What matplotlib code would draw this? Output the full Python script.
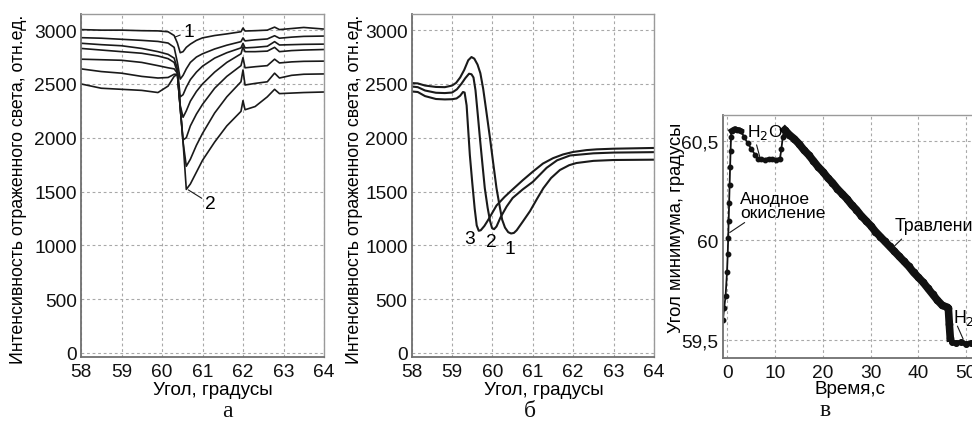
import matplotlib
matplotlib.use("Agg")
import matplotlib.pyplot as plt

plt.rcParams["font.family"] = ["Liberation Sans", "DejaVu Sans"]
plt.rcParams["font.size"] = 13.5

# ---- panel a: reflectance curves during oxidation (7 curves) ----
angle_a = [58.0, 58.5, 59.0, 59.5, 59.9, 60.15, 60.3, 60.38, 60.45, 60.52, 60.6,
           60.7, 60.85, 61.0, 61.3, 61.6, 61.95, 62.0, 62.05, 62.3, 62.6, 62.78,
           62.9, 63.2, 63.5, 64.0]
curve_a1 = [3005, 3000, 3000, 2995, 2993, 2985, 2950, 2880, 2790, 2800, 2840,
            2870, 2905, 2928, 2950, 2965, 2985, 3020, 2992, 2995, 3000, 3028,
            3005, 3015, 3025, 3010]
curve_a2 = [2930, 2925, 2915, 2905, 2895, 2880, 2840, 2700, 2545, 2580, 2640,
            2700, 2750, 2780, 2825, 2860, 2893, 2928, 2900, 2910, 2918, 2948,
            2925, 2935, 2942, 2945]
curve_a3 = [2878, 2865, 2855, 2830, 2800, 2775, 2740, 2640, 2380, 2400, 2470,
            2540, 2610, 2665, 2740, 2790, 2835, 2877, 2835, 2840, 2850, 2893,
            2862, 2865, 2868, 2870]
curve_a4 = [2830, 2815, 2800, 2785, 2760, 2735, 2700, 2610, 2300, 2190, 2250,
            2340, 2430, 2500, 2610, 2700, 2780, 2845, 2800, 2800, 2805, 2840,
            2800, 2810, 2815, 2820]
curve_a5 = [2730, 2725, 2720, 2700, 2670, 2650, 2640, 2600, 2280, 1980, 2000,
            2110, 2220, 2310, 2460, 2570, 2670, 2745, 2650, 2660, 2670, 2730,
            2695, 2705, 2710, 2712]
curve_a6 = [2640, 2615, 2600, 2570, 2555, 2560, 2590, 2590, 2280, 1960, 1735,
            1800, 1930, 2040, 2230, 2380, 2520, 2630, 2490, 2505, 2520, 2600,
            2555, 2580, 2590, 2593]
curve_a7 = [2500, 2460, 2450, 2440, 2420, 2480, 2570, 2590, 2280, 1960, 1520,
            1570, 1680, 1790, 1960, 2110, 2245, 2345, 2260, 2290, 2380, 2450,
            2410, 2415, 2420, 2425]
curves_a = [curve_a1, curve_a2, curve_a3, curve_a4, curve_a5, curve_a6, curve_a7]

# ---- panel b: calculated curves 1-3 ----
angle_b1 = [58.0, 58.15, 58.33, 58.6, 58.82, 59.0, 59.1, 59.2, 59.3, 59.4,
            59.48, 59.55, 59.63, 59.7, 59.77, 59.85, 59.94, 60.02, 60.1, 60.17,
            60.24, 60.31, 60.39, 60.46, 60.53, 60.6, 60.75, 60.93, 61.1, 61.26,
            61.45, 61.67, 61.9, 62.08, 62.5, 63.0, 64.0]
curve_b1 = [2508, 2505, 2485, 2472, 2470, 2485, 2510, 2560, 2630, 2720,
            2750, 2735, 2680, 2600, 2455, 2240, 1993, 1760, 1531, 1380,
            1238, 1165, 1122, 1110, 1115, 1140, 1220, 1318, 1430, 1531,
            1625, 1700, 1745, 1765, 1785, 1793, 1796]
angle_b2 = [58.0, 58.15, 58.33, 58.6, 58.82, 59.0, 59.12, 59.23, 59.33, 59.42,
            59.48, 59.53, 59.58, 59.64, 59.69, 59.75, 59.81, 59.88, 59.94, 59.99,
            60.04, 60.1, 60.2, 60.35, 60.5, 60.75, 61.0, 61.34, 61.6, 61.92,
            62.5, 63.0, 64.0]
curve_b2 = [2476, 2470, 2439, 2418, 2415, 2420, 2450, 2501, 2555, 2595,
            2590, 2560, 2440, 2200, 1993, 1760, 1531, 1350, 1226, 1160,
            1150, 1175, 1260, 1360, 1440, 1520, 1590, 1720, 1790, 1835,
            1855, 1862, 1866]
angle_b3 = [58.0, 58.15, 58.33, 58.6, 58.82, 59.0, 59.11, 59.2, 59.27, 59.31,
            59.36, 59.44, 59.5, 59.56, 59.61, 59.66, 59.71, 59.8, 59.9, 60.1,
            60.3, 60.5, 60.75, 61.0, 61.25, 61.5, 61.75, 62.0, 62.33, 62.58,
            63.0, 64.0]
curve_b3 = [2430, 2425, 2387, 2360, 2356, 2358, 2365, 2390, 2425, 2420,
            2300, 1838, 1580, 1340, 1185, 1135, 1140, 1180, 1240, 1370,
            1450, 1520, 1605, 1685, 1760, 1810, 1845, 1868, 1885, 1892,
            1898, 1905]

# ---- panel c: minimum angle vs time ----
time_c = [-0.95, -0.7, -0.4, -0.1, 0.05, 0.15, 0.25, 0.35, 0.45, 0.55, 0.65,
          0.75, 0.85, 1.2, 1.6, 2.0, 2.4, 2.8, 3.5, 4.2, 5.0, 5.8, 6.4, 7.0,
          7.8, 8.6, 9.4, 10.2, 11.0, 11.3, 11.6, 11.9,
          12, 13, 14, 15, 16, 17, 18, 19, 20, 21, 22, 23, 24, 25, 26, 27, 28,
          29, 30, 31, 32, 33, 34, 35, 36, 37, 38, 39, 40, 41, 42, 43, 44, 45,
          46, 46.3, 46.5, 46.7, 47, 48, 49, 50, 51, 52, 53]
angle_c = [59.60, 59.66, 59.72, 59.84, 59.93, 60.01, 60.10, 60.19, 60.28,
           60.37, 60.45, 60.52, 60.55, 60.555, 60.56, 60.555, 60.555, 60.55,
           60.52, 60.49, 60.46, 60.43, 60.41, 60.41, 60.405, 60.41, 60.41,
           60.405, 60.41, 60.46, 60.52, 60.56,
           60.555, 60.53, 60.51, 60.485, 60.455, 60.43, 60.40, 60.37, 60.345,
           60.315, 60.29, 60.26, 60.235, 60.21, 60.18, 60.155, 60.125, 60.10,
           60.075, 60.045, 60.02, 59.995, 59.97, 59.945, 59.92, 59.895, 59.87,
           59.84, 59.815, 59.79, 59.76, 59.73, 59.70, 59.675, 59.665, 59.66,
           59.58, 59.51, 59.49, 59.485, 59.49, 59.48, 59.485, 59.48, 59.485]
etch_start = 32  # index where the etching segment begins

fig = plt.figure(figsize=(9.72, 4.27), dpi=100)

W, H = 972.0, 427.0
ax_a = fig.add_axes([81 / W, 1 - 358 / H, 243 / W, 343 / H])
ax_b = fig.add_axes([411.7 / W, 1 - 358 / H, 242.3 / W, 343 / H])
ax_c = fig.add_axes([722.7 / W, 1 - 359 / H, 262.4 / W, 243 / H])

ylabel_ab = "Интенсивность отраженного света, отн.ед."


def style_axes(ax):
    ax.grid(True, color="#a8a8a8", linestyle=(0, (2.5, 2.5)), linewidth=0.8)
    ax.set_axisbelow(True)
    for side in ["top", "right"]:
        ax.spines[side].set_color("#9a9a9a")
        ax.spines[side].set_linewidth(1.0)
    for side in ["left", "bottom"]:
        ax.spines[side].set_color("#707070")
        ax.spines[side].set_linewidth(1.3)
    ax.tick_params(length=0, pad=3, labelsize=13.8, colors="#111111")
    ax.tick_params(axis="x", pad=4)


for ax in [ax_a, ax_b]:
    style_axes(ax)
    ax.set_xlim(58, 64)
    ax.set_ylim(-38, 3150)
    ax.set_xticks([58, 59, 60, 61, 62, 63, 64])
    ax.set_yticks([0, 500, 1000, 1500, 2000, 2500, 3000])
    ax.set_xlabel("Угол, градусы", fontsize=13.6)
    ax.set_ylabel(ylabel_ab, fontsize=12.8)

ax_a.xaxis.set_label_coords(0.543, -0.071)
ax_a.yaxis.set_label_coords(-0.222, 0.493)
ax_b.xaxis.set_label_coords(0.546, -0.071)
ax_b.yaxis.set_label_coords(-0.200, 0.493)

for c in curves_a:
    ax_a.plot(angle_a, c, color="#1a1a1a", linewidth=1.2)

ax_a.annotate("1", xy=(60.32, 2935), xytext=(60.52, 2985), fontsize=13.8,
              ha="left", va="center",
              arrowprops=dict(arrowstyle="-", color="#1a1a1a", lw=0.8,
                              shrinkA=0, shrinkB=0))
ax_a.annotate("2", xy=(60.65, 1515), xytext=(61.05, 1390), fontsize=13.8,
              ha="left", va="center",
              arrowprops=dict(arrowstyle="-", color="#1a1a1a", lw=0.8,
                              shrinkA=0, shrinkB=0))

ax_b.plot(angle_b1, curve_b1, color="#1a1a1a", linewidth=1.5)
ax_b.plot(angle_b2, curve_b2, color="#1a1a1a", linewidth=1.5)
ax_b.plot(angle_b3, curve_b3, color="#1a1a1a", linewidth=1.5)
ax_b.text(59.43, 1060, "3", fontsize=13.8, ha="center", va="center")
ax_b.text(59.98, 1040, "2", fontsize=13.8, ha="center", va="center")
ax_b.text(60.43, 975, "1", fontsize=13.8, ha="center", va="center")

# panel c
style_axes(ax_c)
ax_c.set_xlim(-1, 54)
ax_c.set_ylim(59.41, 60.63)
ax_c.set_xticks([0, 10, 20, 30, 40, 50])
ax_c.set_yticks([59.5, 60.0, 60.5])
ax_c.set_yticklabels(["59,5", "60", "60,5"])
ax_c.set_xlabel("Время,с", fontsize=13.6)
ax_c.set_ylabel("Угол минимума, градусы", fontsize=13.2)
ax_c.xaxis.set_label_coords(0.485, -0.091)
ax_c.yaxis.set_label_coords(-0.144, 0.541)

ax_c.plot(time_c, angle_c, color="#111111", linewidth=1.3, marker="o",
          markersize=3.2)
ax_c.plot(time_c[etch_start:-7], angle_c[etch_start:-7], color="#111111",
          linewidth=5.5, marker="o", markersize=4.5)
ax_c.plot(time_c[-8:], angle_c[-8:], color="#111111", linewidth=3.5,
          marker="o", markersize=4.0)
ax_c.plot(time_c[12:18], angle_c[12:18], color="#111111", linewidth=4.0)
ax_c.plot(time_c[22:29], angle_c[22:29], color="#111111", linewidth=2.5)

leader = dict(arrowstyle="-", color="#1a1a1a", lw=0.8, shrinkA=0, shrinkB=0)
ax_c.text(4.0, 60.545, "H$_2$O", fontsize=12.6, ha="left", va="center")
ax_c.annotate("", xy=(6.8, 60.417), xytext=(6.1, 60.48), arrowprops=leader)
ax_c.text(2.6, 60.175, "Анодное\nокисление", fontsize=12.6, ha="left",
          va="center", linespacing=0.95)
ax_c.annotate("", xy=(0.48, 60.04), xytext=(3.6, 60.09), arrowprops=leader)
ax_c.text(35.1, 60.073, "Травление", fontsize=12.8, ha="left", va="center")
ax_c.annotate("", xy=(34.7, 59.965), xytext=(36.5, 60.007), arrowprops=leader)
ax_c.text(47.3, 59.615, "H$_2$O", fontsize=12.8, ha="left", va="center")
ax_c.annotate("", xy=(49.4, 59.505), xytext=(48.2, 59.57), arrowprops=leader)

# sub-figure letters
for x, y, s in [(227, 412, "а"), (530, 412, "б"), (825, 411, "в")]:
    fig.text(x / W, 1 - y / H, s, fontsize=17, ha="center", va="center",
             family="Liberation Serif", color="#111111")

fig.savefig("out.png", dpi=100)
